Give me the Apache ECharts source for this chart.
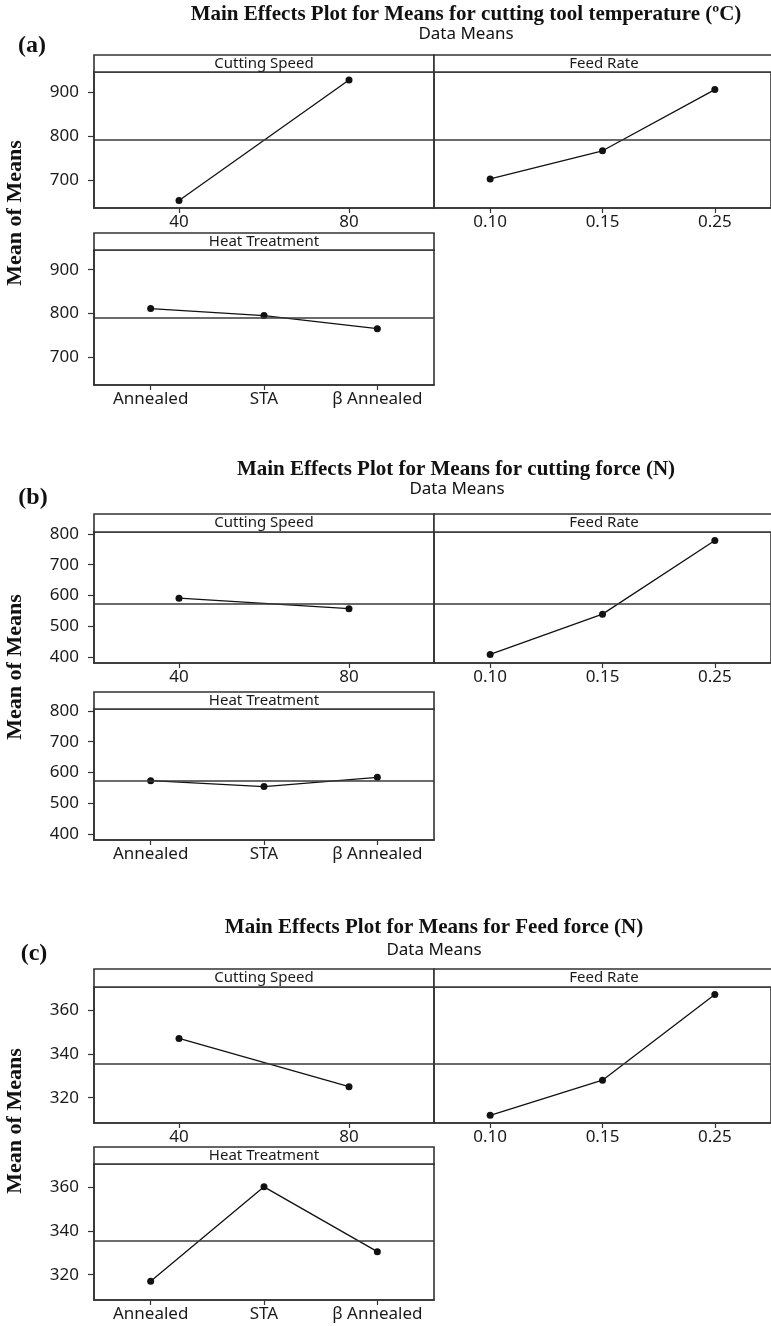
<!DOCTYPE html>
<html>
<head>
<meta charset="utf-8">
<script src="https://cdn.jsdelivr.net/npm/echarts@6/dist/echarts.min.js"></script>
<style>html,body{margin:0;padding:0;background:#fff}#c{width:771px;height:1326px}</style>
</head>
<body>
<div id="c"></div>
<script>
// ---------- data ----------
const chartTitles = [
  'Main Effects Plot for Means for cutting tool temperature (ºC)',
  'Main Effects Plot for Means for cutting force (N)',
  'Main Effects Plot for Means for Feed force (N)'
];
const subTitle = 'Data Means';
const panelTags = ['(a)', '(b)', '(c)'];
const yAxisName = 'Mean of Means';
const factorNames = ['Cutting Speed', 'Feed Rate', 'Heat Treatment'];

const speedCats = ['40', '80'];
const feedCats = ['0.10', '0.15', '0.25'];
const heatCats = ['Annealed', 'STA', 'β Annealed'];

// (a) cutting tool temperature
const tempSpeed = [653, 927];
const tempFeed = [702, 766, 905];
const tempHeat = [811, 795, 765];
const tempMean = 790;
const tempTicks = [700, 800, 900];
const tempRange = [636, 945];

// (b) cutting force
const forceSpeed = [591, 557];
const forceFeed = [408, 539, 779];
const forceHeat = [573, 554, 584];
const forceMean = 573;
const forceTicks = [400, 500, 600, 700, 800];
const forceRange = [380, 806.5];

// (c) feed force
const feedSpeed = [347, 325];
const feedFeed = [312, 328, 367];
const feedHeat = [317, 360, 330.5];
const feedMean = 335.5;
const feedTicks = [320, 340, 360];
const feedRange = [308.5, 370.4];

// ---------- layout (pixels) ----------
const layout = [
  {title: [466, 15], sub: [466, 34], tag: [32, 46], ylab: 213, rows: [[55, 72, 208], [233, 250, 385]]},
  {title: [456, 470], sub: [457, 489.5], tag: [33, 498], ylab: 667, rows: [[514, 532, 663], [692, 709, 840]]},
  {title: [434, 928], sub: [434, 950], tag: [34, 954], ylab: 1121, rows: [[969, 987, 1123], [1147, 1164, 1300]]}
];
const panelLeft = 94, panelW = 340;

const charts = [
  {speed: tempSpeed, feed: tempFeed, heat: tempHeat, mean: tempMean, ticks: tempTicks, range: tempRange},
  {speed: forceSpeed, feed: forceFeed, heat: forceHeat, mean: forceMean, ticks: forceTicks, range: forceRange},
  {speed: feedSpeed, feed: feedFeed, heat: feedHeat, mean: feedMean, ticks: feedTicks, range: feedRange}
];

const BORDER = '#333';
const tickFont = {fontFamily: 'Noto Sans', fontSize: 17, color: '#1a1a1a'};

const grid = [], xAxis = [], yAxis = [], series = [], graphic = [];

function addPanel(left, top, height, cats, values, c, showY) {
  const idx = grid.length;
  grid.push({left: left, top: top, width: panelW, height: height, show: true,
    borderColor: BORDER, borderWidth: 1.6, containLabel: false});
  xAxis.push({type: 'category', gridIndex: idx, data: cats, boundaryGap: true,
    axisLine: {show: true, lineStyle: {color: BORDER, width: 1.6}},
    axisTick: {show: true, alignWithLabel: true, length: 5, lineStyle: {color: BORDER, width: 1.2}},
    axisLabel: Object.assign({margin: 6, interval: 0}, tickFont),
    splitLine: {show: false}});
  yAxis.push({type: 'value', gridIndex: idx, min: c.range[0], max: c.range[1], show: showY,
    axisLine: {show: true, lineStyle: {color: BORDER, width: 1.6}},
    axisTick: {show: true, length: 6, customValues: c.ticks, lineStyle: {color: BORDER, width: 1.2}},
    axisLabel: Object.assign({margin: 15, customValues: c.ticks}, tickFont),
    splitLine: {show: false}});
  series.push({type: 'line', xAxisIndex: idx, yAxisIndex: idx, data: values,
    symbol: 'circle', symbolSize: 7, itemStyle: {color: '#111'},
    lineStyle: {color: '#111', width: 1.3}, animation: false, silent: true,
    markLine: {silent: true, symbol: 'none', label: {show: false},
      lineStyle: {color: '#3a3a3a', width: 1.6, type: 'solid'},
      data: [{yAxis: c.mean}]}});
}

function addHeader(left, width, top, bottom, text) {
  graphic.push({type: 'rect', shape: {x: left, y: top, width: width, height: bottom - top},
    style: {fill: '#fff', stroke: BORDER, lineWidth: 1.6}, silent: true});
  graphic.push({type: 'text', x: left + width / 2, y: (top + bottom) / 2,
    style: {text: text, fontFamily: 'Noto Sans', fontSize: 15, fill: '#1a1a1a',
      textAlign: 'center', textVerticalAlign: 'middle'}, silent: true});
}

charts.forEach(function (c, i) {
  const L = layout[i];
  const r1 = L.rows[0], r2 = L.rows[1];
  addPanel(panelLeft, r1[1], r1[2] - r1[1], speedCats, c.speed, c, true);
  addPanel(panelLeft + panelW, r1[1], r1[2] - r1[1], feedCats, c.feed, c, false);
  addPanel(panelLeft, r2[1], r2[2] - r2[1], heatCats, c.heat, c, true);
  addHeader(panelLeft, panelW, r1[0], r1[1], factorNames[0]);
  addHeader(panelLeft + panelW, panelW, r1[0], r1[1], factorNames[1]);
  addHeader(panelLeft, panelW, r2[0], r2[1], factorNames[2]);
  graphic.push({type: 'text', x: L.title[0], y: L.title[1],
    style: {text: chartTitles[i], fontFamily: 'Liberation Serif', fontWeight: 'bold', fontSize: 21,
      fill: '#111', textAlign: 'center', textVerticalAlign: 'middle'}, silent: true});
  graphic.push({type: 'text', x: L.sub[0], y: L.sub[1],
    style: {text: subTitle, fontFamily: 'Noto Sans', fontSize: 17,
      fill: '#111', textAlign: 'center', textVerticalAlign: 'middle'}, silent: true});
  graphic.push({type: 'text', x: L.tag[0], y: L.tag[1],
    style: {text: panelTags[i], fontFamily: 'Liberation Serif', fontWeight: 'bold', fontSize: 24,
      fill: '#111', textAlign: 'center', textVerticalAlign: 'middle'}, silent: true});
  graphic.push({type: 'text', x: 15, y: L.ylab, rotation: Math.PI / 2,
    style: {text: yAxisName, fontFamily: 'Liberation Serif', fontWeight: 'bold', fontSize: 22,
      fill: '#111', textAlign: 'center', textVerticalAlign: 'middle'}, silent: true});
});

const chart = echarts.init(document.getElementById('c'), null, {renderer: 'canvas'});
chart.setOption({animation: false, backgroundColor: '#fff', grid: grid, xAxis: xAxis, yAxis: yAxis,
  series: series, graphic: graphic});
</script>
</body>
</html>
